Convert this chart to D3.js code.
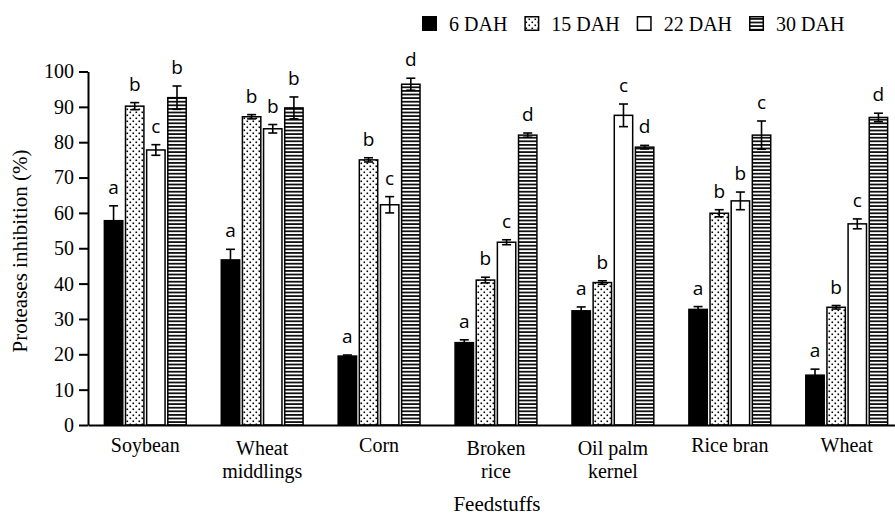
<!DOCTYPE html>
<html>
<head>
<meta charset="utf-8">
<script src="https://cdn.jsdelivr.net/npm/d3@7"></script>
<style>
  body { margin: 0; background: #fff; }
  svg { display: block; }
  .serif { font-family: "Liberation Serif", "Times New Roman", serif; }
</style>
</head>
<body>
<div id="chart"></div>
<script>
// protease inhibition by feedstuff and storage time

const categories = ["Soybean", "Wheat middlings", "Corn", "Broken rice", "Oil palm kernel", "Rice bran", "Wheat"];
const categoryLines = [["Soybean"], ["Wheat", "middlings"], ["Corn"], ["Broken", "rice"], ["Oil palm", "kernel"], ["Rice bran"], ["Wheat"]];
const seriesNames = ["6 DAH", "15 DAH", "22 DAH", "30 DAH"];

const mean6 = [57.8, 46.7, 19.5, 23.3, 32.3, 32.7, 14.1];
const err6 = [4.2, 3.0, 0.3, 0.8, 1.1, 0.8, 1.7];
const mean15 = [90.2, 87.2, 75.0, 41.0, 40.3, 59.9, 33.3];
const err15 = [1.0, 0.6, 0.6, 0.8, 0.5, 1.0, 0.5];
const mean22 = [77.8, 83.8, 62.3, 51.7, 87.6, 63.4, 56.9];
const err22 = [1.5, 1.2, 2.3, 0.7, 3.2, 2.5, 1.4];
const mean30 = [92.6, 89.7, 96.4, 82.0, 78.6, 82.0, 87.0];
const err30 = [3.3, 3.1, 1.7, 0.6, 0.5, 4.0, 1.2];

const letters6 = ["a", "a", "a", "a", "a", "a", "a"];
const letters15 = ["b", "b", "b", "b", "b", "b", "b"];
const letters22 = ["c", "b", "c", "c", "c", "b", "c"];
const letters30 = ["b", "b", "d", "d", "d", "c", "d"];

const yTicks = [0, 10, 20, 30, 40, 50, 60, 70, 80, 90, 100];

const WIDTH = 895, HEIGHT = 518;
const SERIF = "\"Liberation Serif\", \"Times New Roman\", serif";

const svg = d3.select("#chart").append("svg")
    .attr("width", WIDTH)
    .attr("height", HEIGHT);

// patterns
const defs = svg.append("defs");
const dots = defs.append("pattern")
    .attr("id", "dots")
    .attr("patternUnits", "userSpaceOnUse")
    .attr("width", 6).attr("height", 6);
dots.append("rect").attr("width", 6).attr("height", 6).attr("fill", "#fff");
dots.append("rect").attr("x", 0.5).attr("y", 0.5).attr("width", 1.6).attr("height", 1.6).attr("fill", "#000");
dots.append("rect").attr("x", 3.5).attr("y", 3.5).attr("width", 1.6).attr("height", 1.6).attr("fill", "#000");

const stripes = defs.append("pattern")
    .attr("id", "stripes")
    .attr("patternUnits", "userSpaceOnUse")
    .attr("width", 6).attr("height", 3.6);
stripes.append("rect").attr("width", 6).attr("height", 3.6).attr("fill", "#fff");
stripes.append("rect").attr("y", 0).attr("width", 6).attr("height", 1.8).attr("fill", "#111");

const fills = ["#000", "url(#dots)", "#fff", "url(#stripes)"];

const series = [
  {name: seriesNames[0], mean: mean6, err: err6, letters: letters6},
  {name: seriesNames[1], mean: mean15, err: err15, letters: letters15},
  {name: seriesNames[2], mean: mean22, err: err22, letters: letters22},
  {name: seriesNames[3], mean: mean30, err: err30, letters: letters30}
];

// scales
const x = d3.scaleBand()
    .domain(categories)
    .range([88, 904])
    .paddingInner(0.3)
    .paddingOuter(0.14);

const xs = d3.scaleBand()
    .domain(seriesNames)
    .range([0, x.bandwidth()])
    .paddingInner(0.13);

const y = d3.scaleLinear()
    .domain([0, 100])
    .range([425, 71.5]);

// bars
const rows = [];
categories.forEach((c, i) => {
  series.forEach((s, k) => {
    rows.push({cat: c, ser: s.name, k: k, v: s.mean[i], e: s.err[i], letter: s.letters[i]});
  });
});

const barG = svg.append("g");
barG.selectAll("rect")
    .data(rows)
    .enter()
    .append("rect")
    .attr("x", d => x(d.cat) + xs(d.ser))
    .attr("y", d => y(d.v))
    .attr("width", xs.bandwidth())
    .attr("height", d => y(0) - y(d.v))
    .attr("fill", d => fills[d.k])
    .attr("stroke", "#000")
    .attr("stroke-width", 1.5);

// error bars
const errG = svg.append("g")
    .attr("stroke", "#000")
    .attr("stroke-width", 1.6);
const cx = d => x(d.cat) + xs(d.ser) + xs.bandwidth() / 2;
errG.selectAll("line.v")
    .data(rows)
    .enter()
    .append("line")
    .attr("class", "v")
    .attr("x1", cx).attr("x2", cx)
    .attr("y1", d => y(d.v - d.e))
    .attr("y2", d => y(d.v + d.e));
errG.selectAll("line.t")
    .data(rows)
    .enter()
    .append("line")
    .attr("class", "t")
    .attr("x1", d => cx(d) - 4.5).attr("x2", d => cx(d) + 4.5)
    .attr("y1", d => y(d.v + d.e))
    .attr("y2", d => y(d.v + d.e));
errG.selectAll("line.b")
    .data(rows)
    .enter()
    .append("line")
    .attr("class", "b")
    .attr("x1", d => cx(d) - 4.5).attr("x2", d => cx(d) + 4.5)
    .attr("y1", d => y(d.v - d.e))
    .attr("y2", d => y(d.v - d.e));

// significance letters
svg.append("g")
    .selectAll("text")
    .data(rows)
    .enter()
    .append("text")
    .attr("x", cx)
    .attr("y", d => y(d.v + d.e) - 12)
    .attr("text-anchor", "middle")
    .style("font-family", "\"Open Sans\", \"Noto Sans\", sans-serif")
    .style("font-size", "19px")
    .attr("fill", "#000")
    .text(d => d.letter);

// y axis
const yAxis = svg.append("g")
    .attr("transform", "translate(88,0)")
    .call(d3.axisLeft(y).tickValues(yTicks).tickSize(9).tickPadding(5).tickSizeOuter(0));
yAxis.attr("font-family", null).attr("font-size", null);
yAxis.select(".domain").attr("stroke-width", 2);
yAxis.selectAll(".tick line").attr("stroke-width", 2);
yAxis.selectAll(".tick text")
    .attr("class", "serif")
    .style("font-family", SERIF)
    .style("font-size", "20px")
    .attr("fill", "#000");

// x axis
const xAxis = svg.append("g")
    .attr("transform", "translate(0,425)")
    .call(d3.axisBottom(x).tickSize(0).tickSizeOuter(0).tickFormat(""));
xAxis.select(".domain").attr("stroke-width", 2);

const catG = svg.append("g")
    .attr("class", "serif")
    .style("font-family", SERIF)
    .style("font-size", "20px")
    .attr("text-anchor", "middle");
categories.forEach((c, i) => {
  const lines = categoryLines[i];
  const t = catG.append("text")
      .attr("x", x(c) + x.bandwidth() / 2)
      .attr("y", lines.length > 1 ? 455 : 452);
  lines.forEach((ln, j) => {
    t.append("tspan")
        .attr("x", x(c) + x.bandwidth() / 2)
        .attr("dy", j === 0 ? 0 : 23)
        .text(ln);
  });
});

// axis titles
svg.append("text")
    .attr("transform", "translate(27,251) rotate(-90)")
    .attr("text-anchor", "middle")
    .attr("class", "serif")
    .style("font-family", SERIF)
    .style("font-size", "21px")
    .text("Proteases inhibition (%)");

svg.append("text")
    .attr("x", 497)
    .attr("y", 511)
    .attr("text-anchor", "middle")
    .attr("class", "serif")
    .style("font-family", SERIF)
    .style("font-size", "21px")
    .text("Feedstuffs");

// legend
const legend = svg.append("g");
let lx = 422;
seriesNames.forEach((name, k) => {
  legend.append("rect")
      .attr("x", lx + 0.75).attr("y", 16.75)
      .attr("width", 13.5).attr("height", 13.5)
      .attr("fill", fills[k])
      .attr("stroke", "#000")
      .attr("stroke-width", 1.5);
  const t = legend.append("text")
      .attr("x", lx + 27)
      .attr("y", 31)
      .attr("class", "serif")
      .style("font-family", SERIF)
      .style("font-size", "20px")
      .text(name);
  lx = lx + 27 + t.node().getComputedTextLength() + 17;
});
</script>
</body>
</html>
